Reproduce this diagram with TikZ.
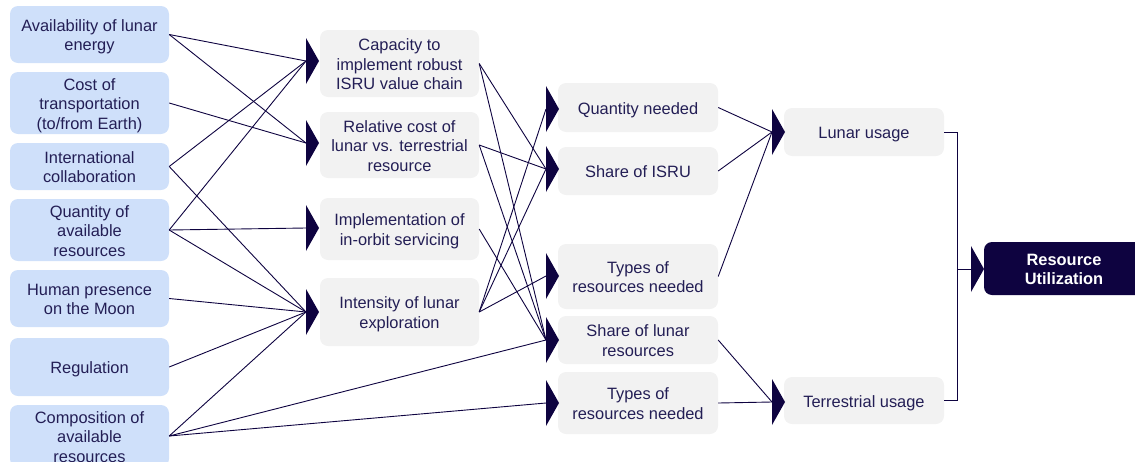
\documentclass[tikz,border=0pt]{standalone}
\usepackage{fontspec}
\setmainfont{Liberation Sans}
\definecolor{navy}{RGB}{14,3,64}
\definecolor{txt}{RGB}{35,30,85}
\definecolor{lblue}{RGB}{207,224,250}
\definecolor{lgray}{RGB}{242,242,242}
\newcommand{\ta}{\rule{0pt}{18pt}}
\newcommand{\tb}{\rule[-5pt]{0pt}{5pt}}
\newcommand{\chev}[3]{\fill[navy] (#2,#3-23) -- (#2+13,#3) -- (#2,#3+23) -- cycle; \coordinate (#1) at (#2,#3);}
\begin{document}
\begin{tikzpicture}[x=1pt,y=-1pt,
  box/.style={rounded corners=8pt, text=txt, align=center, font=\fontsize{16.4}{19.5}\selectfont, inner sep=0pt},
  inbox/.style={box, fill=lblue, minimum width=159pt},
  gbox/.style={box, fill=lgray, minimum width=160pt},
  conn/.style={draw=navy, line width=0.9pt},
  darkbox/.style={box, fill=navy, text=white, font=\fontsize{16.4}{19.5}\selectfont\bfseries, minimum width=160pt}]
\useasboundingbox (0,0) rectangle (1135,461);
\clip (0,0) rectangle (1135,461);
% left column
\node[inbox, minimum height=57pt] (L1) at (89.5,34.5) {\ta Availability of lunar\\energy\tb};
\node[inbox, minimum height=58pt] (L2) at (89.5,103) {\ta Cost of\\transportation\\(to/from Earth)\tb};
\node[inbox, minimum height=47pt] (L3) at (89.5,166.5) {\ta International\\collaboration\tb};
\node[inbox, minimum height=58pt] (L4) at (89.5,230) {\ta Quantity of\\available\\resources\tb};
\node[inbox, minimum height=57pt] (L5) at (89.5,298.5) {\ta Human presence\\on the Moon\tb};
\node[inbox, minimum height=58pt] (L6) at (89.5,367) {\ta Regulation\tb};
\node[inbox, minimum height=58pt] (L7) at (89.5,436) {\ta Composition of\\available\\resources\tb};
% second column
\node[gbox, minimum width=159pt, minimum height=67pt] (A) at (399.5,63.5) {\ta Capacity to\\implement robust\\ISRU value chain\tb};
\node[gbox, minimum width=159pt, minimum height=66pt] (B) at (399.5,145) {\ta Relative cost of\\lunar vs. terrestrial\\resource\tb};
\node[gbox, minimum width=159pt, minimum height=62pt] (C) at (399.5,229) {\ta Implementation of\\in-orbit servicing\tb};
\node[gbox, minimum width=159pt, minimum height=68pt] (D) at (399.5,312) {\ta Intensity of lunar\\exploration\tb};
\chev{tA}{306}{61}
\chev{tB}{306}{143}
\chev{tC}{306}{228}
\chev{tD}{306}{312}
% third column
\node[gbox, minimum height=49pt] (Q) at (638,107.5) {\ta Quantity needed\tb};
\node[gbox, minimum height=48pt] (S) at (638,171) {\ta Share of ISRU\tb};
\node[gbox, minimum height=65pt] (T1) at (638,276.5) {\ta Types of\\resources needed\tb};
\node[gbox, minimum height=48pt] (SL) at (638,340) {\ta Share of lunar\\resources\tb};
\node[gbox, minimum height=62pt] (T2) at (638,403) {\ta Types of\\resources needed\tb};
\chev{tQ}{546}{109}
\chev{tS}{546}{169}
\chev{tT1}{546}{276}
\chev{tSL}{546}{340}
\chev{tT2}{546}{403}
% fourth column
\node[gbox, minimum height=48pt] (LU) at (864,132) {\ta Lunar usage\tb};
\node[gbox, minimum height=47pt] (TU) at (864,400.5) {\ta Terrestrial usage\tb};
\chev{tLU}{772}{132}
\chev{tTU}{772}{402}
% result
\node[darkbox, minimum height=53pt] (RU) at (1064,268.5) {\ta Resource\\Utilization\tb};
\chev{tRU}{971}{269}
% connectors left -> second
\draw[conn] (L1.east) -- (tA);
\draw[conn] (L1.east) -- (tB);
\draw[conn] (L2.east) -- (tB);
\draw[conn] (L3.east) -- (tA);
\draw[conn] (L3.east) -- (tD);
\draw[conn] (L4.east) -- (tA);
\draw[conn] (L4.east) -- (tC);
\draw[conn] (L4.east) -- (tD);
\draw[conn] (L5.east) -- (tD);
\draw[conn] (L6.east) -- (tD);
\draw[conn] (L7.east) -- (tD);
\draw[conn] (L7.east) -- (tSL);
\draw[conn] (L7.east) -- (tT2);
% second -> third
\draw[conn] (A.east) -- (tS);
\draw[conn] (A.east) -- (tSL);
\draw[conn] (B.east) -- (tS);
\draw[conn] (B.east) -- (tSL);
\draw[conn] (C.east) -- (tSL);
\draw[conn] (D.east) -- (tQ);
\draw[conn] (D.east) -- (tS);
\draw[conn] (D.east) -- (tT1);
% third -> fourth
\draw[conn] (Q.east) -- (tLU);
\draw[conn] (S.east) -- (tLU);
\draw[conn] (T1.east) -- (tLU);
\draw[conn] (SL.east) -- (tTU);
\draw[conn] (T2.east) -- (tTU);
% bracket
\coordinate (bm) at (957,269);
\draw[conn] (LU.east) -| (bm) |- (TU.east);
\draw[conn] (bm) -- (tRU);
\end{tikzpicture}
\end{document}
